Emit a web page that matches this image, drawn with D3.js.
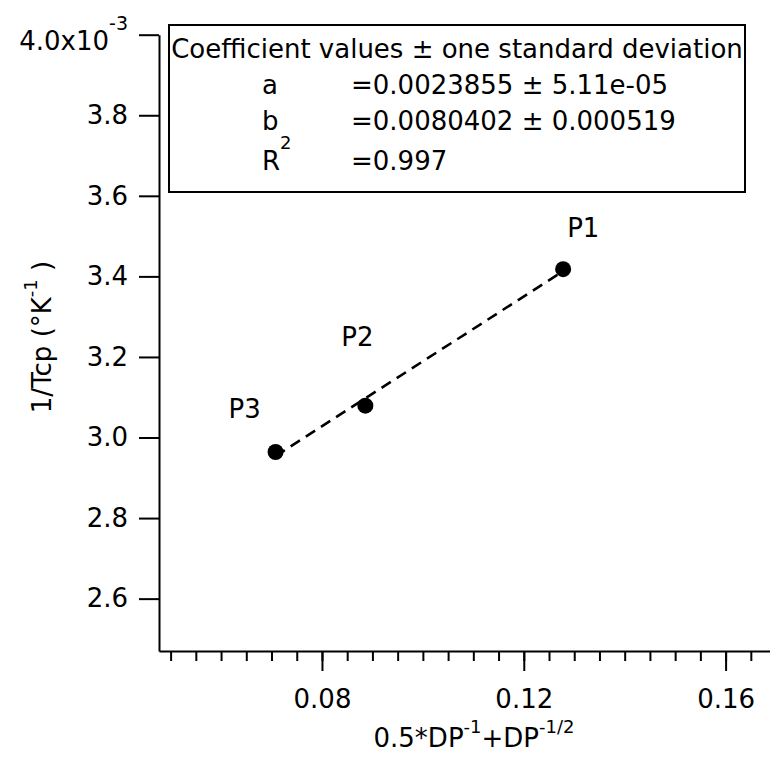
<!DOCTYPE html>
<html>
<head>
<meta charset="utf-8">
<script src="https://cdn.jsdelivr.net/npm/d3@7"></script>
<style>
  body { margin: 0; background: #fff; }
  text { font-family: "DejaVu Sans", sans-serif; fill: #000; }
</style>
</head>
<body>
<svg id="chart"></svg>
<script>
// points (y in units of 1e-3 K^-1)
var pointNames = ["P1", "P2", "P3"];
var pointX = [0.1278, 0.0886, 0.0708];
var pointY = [3.418, 3.079, 2.964];
// fit line end points
var fitX = [0.0708, 0.1278];
var fitY = [2.954, 3.413];
var xTicks = [0.08, 0.12, 0.16];
var xMinorTicks = [0.05, 0.055, 0.06, 0.065, 0.07, 0.075, 0.08, 0.085, 0.09, 0.095, 0.1,
  0.105, 0.11, 0.115, 0.12, 0.125, 0.13, 0.135, 0.14, 0.145, 0.15, 0.155, 0.16, 0.165];
var yTicks = [2.6, 2.8, 3.0, 3.2, 3.4, 3.6, 3.8, 4.0];
var coefTitle = "Coefficient values \u00b1 one standard deviation";
var coefNames = ["a", "b", "R"];
var coefValues = ["=0.0023855 \u00b1 5.11e-05", "=0.0080402 \u00b1 0.000519", "=0.997"];

var width = 770, height = 760;
var fontSize = 26;
var svg = d3.select("#chart").attr("width", width).attr("height", height);

var x = d3.scaleLinear().domain([0.0477, 0.1688]).range([159, 770]);
var y = d3.scaleLinear().domain([2.47, 4.0]).range([651, 34.7]);

// x axis: minor then major ticks
svg.append("g")
  .attr("transform", "translate(0,651)")
  .call(d3.axisBottom(x).tickValues(xMinorTicks).tickSize(10).tickSizeOuter(0).tickFormat(""));
var xMajor = svg.append("g")
  .attr("transform", "translate(0,651)")
  .call(d3.axisBottom(x).tickValues(xTicks).tickSize(20).tickSizeOuter(0).tickPadding(19)
    .tickFormat(d3.format(".2f")));
xMajor.select(".domain").remove();

var yAxis = svg.append("g")
  .attr("transform", "translate(159,0)")
  .call(d3.axisLeft(y).tickValues(yTicks).tickSize(20).tickSizeOuter(0).tickPadding(11)
    .tickFormat(d3.format(".1f")));

svg.selectAll(".domain, .tick line").attr("stroke", "#000").attr("stroke-width", 2);
svg.selectAll(".tick text").style("font-size", fontSize + "px").attr("fill", "#000");
svg.selectAll("g").attr("font-family", null);

// top y label carries the exponent
yAxis.selectAll(".tick text").filter(function (d) { return d === 4.0; })
  .attr("y", 6)
  .text("4.0x10")
  .append("tspan").attr("dy", -20).style("font-size", "19px").text("-3");

// fit line
var line = d3.line().x(function (d) { return x(d[0]); }).y(function (d) { return y(d[1]); });
svg.append("path")
  .datum(fitX.map(function (v, i) { return [v, fitY[i]]; }))
  .attr("d", line)
  .attr("fill", "none")
  .attr("stroke", "#000")
  .attr("stroke-width", 2.6)
  .attr("stroke-dasharray", "11,7");

// points and their labels
var labelOffset = { P1: [4, -32], P2: [-24, -60], P3: [-47, -34] };
svg.selectAll("circle.pt")
  .data(pointNames)
  .enter().append("circle")
  .attr("class", "pt")
  .attr("cx", function (d, i) { return x(pointX[i]); })
  .attr("cy", function (d, i) { return y(pointY[i]); })
  .attr("r", 8)
  .attr("fill", "#000");
svg.selectAll("text.plab")
  .data(pointNames)
  .enter().append("text")
  .attr("class", "plab")
  .attr("x", function (d, i) { return x(pointX[i]) + labelOffset[d][0]; })
  .attr("y", function (d, i) { return y(pointY[i]) + labelOffset[d][1]; })
  .style("font-size", fontSize + "px")
  .text(function (d) { return d; });

// axis titles
var xt = svg.append("text")
  .attr("x", 474).attr("y", 747)
  .attr("text-anchor", "middle")
  .style("font-size", fontSize + "px");
xt.append("tspan").text("0.5*DP");
xt.append("tspan").attr("dy", -14).style("font-size", "18px").text("-1");
xt.append("tspan").attr("dy", 14).text("+DP");
xt.append("tspan").attr("dy", -14).style("font-size", "18px").text("-1/2");

var yt = svg.append("text")
  .attr("transform", "translate(51,337) rotate(-90)")
  .attr("text-anchor", "middle")
  .style("font-size", fontSize + "px");
yt.append("tspan").text("1/Tcp (\u00b0K");
yt.append("tspan").attr("dy", -14).style("font-size", "18px").text("-1");
yt.append("tspan").attr("dy", 14).text(" )");

// coefficient box
var box = svg.append("g");
box.append("rect")
  .attr("x", 169).attr("y", 25).attr("width", 576).attr("height", 167)
  .attr("fill", "#fff").attr("stroke", "#000").attr("stroke-width", 2);
box.append("text")
  .attr("x", 457).attr("y", 58)
  .attr("text-anchor", "middle")
  .style("font-size", fontSize + "px")
  .text(coefTitle);
var rowY = [94, 130, 170];
coefNames.forEach(function (n, i) {
  var t = box.append("text").attr("x", 262).attr("y", rowY[i]).style("font-size", fontSize + "px");
  t.append("tspan").text(n);
  if (n === "R") t.append("tspan").attr("dy", -21).style("font-size", "18px").text("2");
  box.append("text").attr("x", 351).attr("y", rowY[i]).style("font-size", fontSize + "px")
    .text(coefValues[i]);
});
</script>
</body>
</html>
